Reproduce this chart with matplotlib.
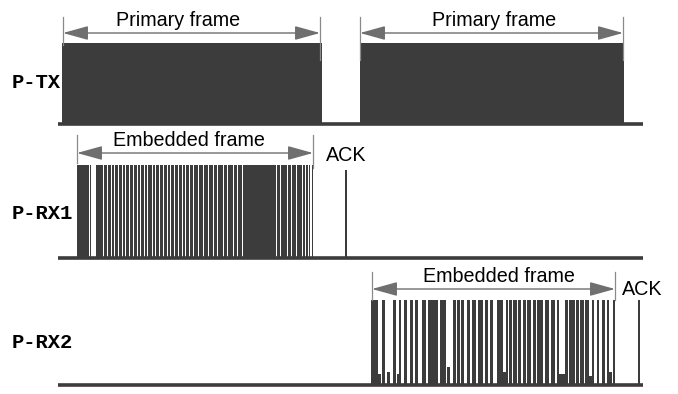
import numpy as np
import matplotlib.pyplot as plt

# time axis in samples, traces normalised to 0..1 amplitude
trace_start, trace_end = 58, 643

# P-TX: two primary frames (start, end)
tx_frames = [(62, 322), (360, 624)]
tx_gaps = [(589.8, 590.2)]

# P-RX1: embedded frame with short dropouts, then the ACK
rx1_frame = (77, 313)
rx1_gaps = [(88.5, 89.5), (91, 96), (102.5, 103.5), (106.5, 107.5), (110.5, 111.5),
            (113.5, 114.5), (117.5, 118.5), (121.5, 122.5), (124.5, 125.5), (128.5, 129.5),
            (132.5, 133.5), (136.5, 137.5), (139.5, 140.5), (143.5, 144.5), (146.5, 147.5),
            (151.5, 152.5), (154.5, 155.5), (158.5, 159.5), (162.5, 163.5), (166.5, 167.5),
            (169.5, 170.5), (173.5, 174.5), (177.5, 178.5), (181.5, 182.5), (184.5, 185.5),
            (188.5, 189.5), (192.5, 193.5), (197.5, 198.5), (202.5, 203.5), (207.5, 208.5),
            (212.5, 213.5), (216.5, 217.5), (222.5, 223.5), (226.5, 227.5), (232.5, 233.5),
            (236.5, 237.5), (241.5, 242.5), (256.7, 257.3), (275.5, 276.5), (279.5, 280.5),
            (286.5, 287.5), (290.5, 291.5), (295.5, 296.5), (301.5, 302.5), (304.5, 305.5),
            (307.5, 308.5), (310.3, 311.7)]
rx1_ack = (344.5, 346.5)
rx1_ack_amp = 0.92

# P-RX2: embedded frame pulses (start, end), small bumps, then the ACK
rx2_pulses = [(371, 378), (382, 384.5), (393, 396), (399, 401), (404, 406.5), (410, 413),
              (415, 418), (422, 426), (428, 438), (440, 446), (453, 456), (457, 460),
              (461, 464), (467, 470), (472, 476), (478, 483), (485, 488), (490, 493),
              (497, 503), (506, 507.5), (509, 512), (513, 517), (518, 521), (523, 526),
              (527, 531), (533, 536), (537, 543), (545, 549), (551, 555), (557, 559),
              (565, 568), (569, 575), (576, 579), (580, 584), (585, 589), (592, 594),
              (597, 599), (602, 605), (607, 609), (613, 615)]
rx2_bumps = [(378, 381, 0.12), (387, 390, 0.15), (397, 398.5, 0.12), (447, 450, 0.2),
             (503, 506, 0.15), (559, 565, 0.12), (589, 592, 0.1), (609, 612, 0.15)]
rx2_ack = (637.5, 639.5)
rx2_ack_amp = 0.97

labels = ["P-TX", "P-RX1", "P-RX2"]

color = "#3c3c3c"
arrow_color = "#6f6f6f"

fig = plt.figure(figsize=(6.78, 3.94), dpi=100)
ax = fig.add_axes([0, 0, 1, 1])
ax.set_xlim(0, 678)
ax.set_ylim(394, 0)
ax.axis("off")

# row layout: baseline position and full-scale height
rows = {"P-TX": (124, 81), "P-RX1": (258, 96), "P-RX2": (385, 88)}


def draw_bars(ax, spans, base, scale, amp=1.0):
    starts = np.array([s for s, e in spans])
    widths = np.array([e - s for s, e in spans])
    ax.bar(starts, -amp * scale, width=widths, bottom=base, align="edge",
           color=color, linewidth=0)


def complement(frame, gaps):
    edges = [frame[0]]
    for g0, g1 in gaps:
        edges += [g0, g1]
    edges.append(frame[1])
    return list(zip(edges[0::2], edges[1::2]))


# baselines (noise floor)
for name in labels:
    base, scale = rows[name]
    ax.plot([trace_start, trace_end], [base, base], color=color, lw=2.6,
            solid_capstyle="butt")

# P-TX
base, scale = rows["P-TX"]
spans = complement(tx_frames[0], []) + complement(tx_frames[1], tx_gaps)
draw_bars(ax, spans, base, scale)

# P-RX1
base, scale = rows["P-RX1"]
draw_bars(ax, complement(rx1_frame, rx1_gaps), base, scale, 0.97)
draw_bars(ax, [rx1_ack], base, scale, rx1_ack_amp)

# P-RX2
base, scale = rows["P-RX2"]
draw_bars(ax, rx2_pulses, base, scale, 0.97)
for s, e, a in rx2_bumps:
    draw_bars(ax, [(s, e)], base, scale, a)
draw_bars(ax, [rx2_ack], base, scale, rx2_ack_amp)

# row labels
label_y = {"P-TX": 82, "P-RX1": 213, "P-RX2": 342}
for name in labels:
    ax.text(12, label_y[name], name, family="Liberation Mono", weight="bold",
            fontsize=14.8, ha="left", va="center", color="black")


def span_arrow(ax, x0, x1, y, top, bot0, bot1, text, tx):
    ax.plot([x0, x0], [top, bot0], color="#8a8a8a", lw=0.9)
    ax.plot([x1, x1], [top, bot1], color="#8a8a8a", lw=0.9)
    ax.annotate("", xy=(x1, y), xytext=(x0, y),
                arrowprops=dict(arrowstyle="<|-|>,head_length=1.3,head_width=0.36",
                                color=arrow_color, lw=1.0, mutation_scale=12,
                                shrinkA=0, shrinkB=0))
    ax.text(tx, y - 7, text, family="Liberation Sans", fontsize=14.2,
            ha="center", va="baseline", color="black")


span_arrow(ax, 63, 320, 33, 17, 45, 60, "Primary frame", 178)
span_arrow(ax, 360, 623, 33, 17, 60, 60, "Primary frame", 494)
span_arrow(ax, 77, 313, 153, 135, 163, 168, "Embedded frame", 189)
span_arrow(ax, 372, 615, 289, 272, 300, 300, "Embedded frame", 499)

ax.text(326, 161, "ACK", family="Liberation Sans", fontsize=14.2,
        ha="left", va="baseline", color="black")
ax.text(622, 295, "ACK", family="Liberation Sans", fontsize=14.2,
        ha="left", va="baseline", color="black")

fig.savefig("out.png", dpi=100)
